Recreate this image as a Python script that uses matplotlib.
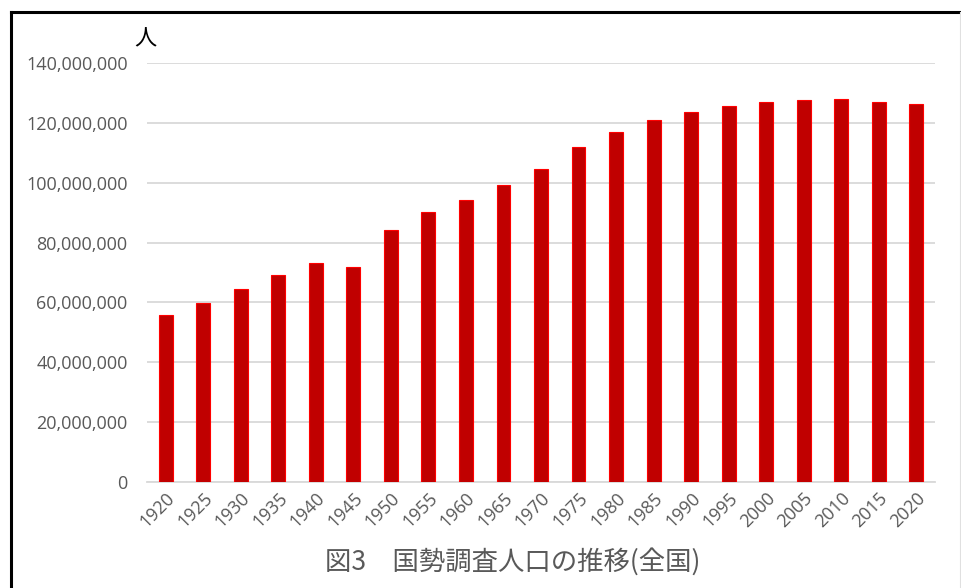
import numpy as np
import matplotlib.pyplot as plt
from matplotlib.lines import Line2D
from matplotlib.ticker import FuncFormatter

plt.rcParams['font.family'] = ['Noto Sans CJK JP', 'DejaVu Sans']

# 国勢調査人口(全国)
years = ['1920', '1925', '1930', '1935', '1940', '1945', '1950', '1955', '1960', '1965', '1970',
         '1975', '1980', '1985', '1990', '1995', '2000', '2005', '2010', '2015', '2020']
population = [55963053, 59736822, 64450005, 69254148, 73114308, 71998104, 84114574,
              90076594, 94301623, 99209137, 104665171, 111939643, 117060396, 121048923,
              123611167, 125570246, 126925843, 127767994, 128057352, 127094745, 126146099]
yticks = [0, 20000000, 40000000, 60000000, 80000000, 100000000, 120000000, 140000000]

W, H = 961, 588
fig = plt.figure(figsize=(W / 100, H / 100), dpi=100)
ax = fig.add_axes([147 / W, 106 / H, (935 - 147) / W, (482 - 63) / H])

x = np.arange(len(years))
ax.bar(x, population, width=0.37, color='#C00000', edgecolor='#FF0000', linewidth=0.8, zorder=3)

ax.set_xlim(-0.5, len(years) - 0.5)
ax.set_ylim(0, 140000000)
ax.set_yticks(yticks)
ax.yaxis.set_major_formatter(FuncFormatter(lambda v, p: f'{int(v):,}'))
ax.set_xticks(x)
ax.set_xticklabels(years, rotation=45, ha='right', rotation_mode='anchor')

ax.grid(axis='y', color='#D9D9D9', linewidth=1.3, zorder=0)
for s in ['top', 'right', 'left']:
    ax.spines[s].set_visible(False)
ax.spines['bottom'].set_color('#D9D9D9')
ax.spines['bottom'].set_linewidth(1.3)
ax.tick_params(axis='both', length=0, labelsize=13, labelcolor='#595959')
for lab in ax.get_xticklabels() + ax.get_yticklabels():
    lab.set_family(['Open Sans', 'DejaVu Sans'])
ax.tick_params(axis='y', pad=14)
ax.tick_params(axis='x', pad=5)

fig.text(145 / W, 1 - 39 / H, '人', fontsize=16, color='black', ha='center', va='center')
fig.text(513 / W, 1 - 562 / H, '図3\u3000国勢調査人口の推移(全国)', fontsize=19,
         color='#595959', ha='center', va='center')

# 枠線
fig.add_artist(Line2D([10.5 / W, 10.5 / W], [0, 1 - 11.5 / H], color='black', linewidth=2.2,
                      transform=fig.transFigure))
fig.add_artist(Line2D([10.5 / W, 1], [1 - 11.5 / H, 1 - 11.5 / H], color='black', linewidth=2.2,
                      transform=fig.transFigure))
fig.add_artist(Line2D([959.5 / W, 959.5 / W], [0, 1 - 11.5 / H], color='#E0E0E0', linewidth=0.8,
                      transform=fig.transFigure))

fig.savefig('out.png', dpi=100)
